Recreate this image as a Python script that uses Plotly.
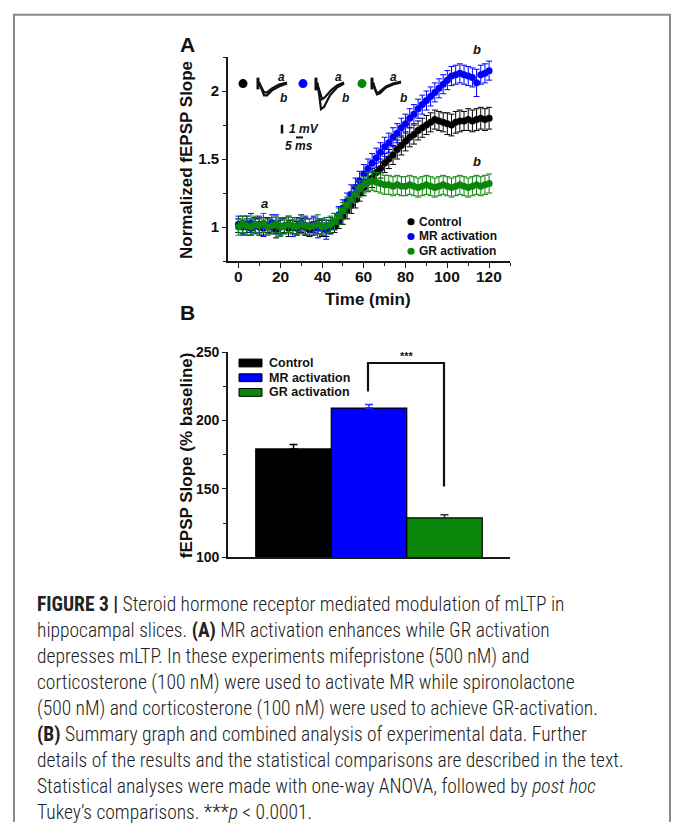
import plotly.graph_objects as go

W, H = 675, 827

# ---------------- Data ----------------
time_min = [0, 2, 4, 6, 8, 10, 12, 14, 16, 18, 20, 22, 24, 26, 28, 30, 32, 34, 36, 38, 40, 42, 44, 46,
            48, 50, 52, 54, 56, 58, 60, 62, 64, 66, 68, 70, 72, 74, 76, 78, 80, 82, 84, 86, 88, 90, 92, 94,
            96, 98, 100, 102, 104, 106, 108, 110, 112, 114, 116, 118, 120]

control_mean = [1.01, 1.00, 1.02, 0.99, 1.01, 1.00, 0.99, 1.01, 1.00, 0.98, 1.00, 1.01, 0.99, 1.00, 0.99, 1.01,
                1.00, 0.98, 0.99, 1.00, 0.99, 0.98, 1.00, 1.01,
                1.04, 1.08, 1.12, 1.16, 1.20, 1.25, 1.29, 1.33, 1.36, 1.40, 1.43, 1.47, 1.50, 1.53, 1.57, 1.60,
                1.63, 1.66, 1.68, 1.71, 1.73, 1.75, 1.77, 1.79,
                1.78, 1.77, 1.76, 1.75, 1.77, 1.78, 1.78, 1.79, 1.78, 1.79, 1.80, 1.79, 1.80]
control_sem = [0.05, 0.05, 0.06, 0.05, 0.05, 0.06, 0.05, 0.05, 0.05, 0.06, 0.05, 0.05, 0.06, 0.05, 0.05, 0.05,
               0.06, 0.05, 0.05, 0.05, 0.06, 0.05, 0.05, 0.05,
               0.05, 0.06, 0.06, 0.06, 0.06, 0.06, 0.06, 0.07, 0.07, 0.07, 0.07, 0.07, 0.07, 0.07, 0.07, 0.07,
               0.07, 0.07, 0.07, 0.07, 0.07, 0.07, 0.07, 0.07,
               0.07, 0.07, 0.08, 0.08, 0.08, 0.08, 0.07, 0.08, 0.08, 0.08, 0.08, 0.08, 0.08]

mr_mean = [1.02, 1.01, 1.00, 1.03, 1.01, 1.02, 1.00, 1.01, 1.03, 1.02, 1.00, 1.01, 1.02, 1.00, 1.01, 1.03,
           1.01, 1.00, 1.02, 0.99, 1.00, 0.98, 1.01, 1.04,
           1.09, 1.14, 1.19, 1.24, 1.29, 1.34, 1.39, 1.43, 1.47, 1.51, 1.55, 1.59, 1.62, 1.66, 1.69, 1.73,
           1.76, 1.80, 1.83, 1.87, 1.90, 1.93, 1.96, 1.99,
           2.02, 2.05, 2.08, 2.11, 2.12, 2.13, 2.12, 2.11, 2.10, 2.06, 2.12, 2.13, 2.15]
mr_sem = [0.06, 0.07, 0.06, 0.07, 0.06, 0.06, 0.07, 0.06, 0.06, 0.07, 0.06, 0.06, 0.06, 0.07, 0.06, 0.06,
          0.07, 0.06, 0.06, 0.07, 0.06, 0.07, 0.06, 0.06,
          0.06, 0.06, 0.06, 0.07, 0.07, 0.07, 0.07, 0.07, 0.07, 0.07, 0.07, 0.07, 0.07, 0.07, 0.07, 0.07,
          0.07, 0.07, 0.07, 0.07, 0.07, 0.07, 0.07, 0.07,
          0.07, 0.07, 0.07, 0.07, 0.07, 0.07, 0.07, 0.07, 0.07, 0.10, 0.07, 0.07, 0.07]

gr_mean = [1.00, 1.02, 1.01, 1.00, 1.02, 1.01, 1.03, 1.00, 1.01, 1.02, 1.00, 1.01, 1.02, 1.01, 1.00, 1.02,
           1.01, 1.00, 1.01, 1.02, 1.00, 1.01, 1.02, 1.04,
           1.08, 1.12, 1.16, 1.20, 1.24, 1.28, 1.31, 1.33, 1.34, 1.33, 1.32, 1.31, 1.31, 1.30, 1.31, 1.30,
           1.30, 1.31, 1.30, 1.29, 1.30, 1.31, 1.30, 1.29,
           1.30, 1.31, 1.30, 1.29, 1.30, 1.31, 1.30, 1.29, 1.30, 1.31, 1.30, 1.31, 1.32]
gr_sem = [0.06, 0.06, 0.07, 0.06, 0.06, 0.06, 0.07, 0.06, 0.06, 0.06, 0.07, 0.06, 0.06, 0.06, 0.06, 0.07,
          0.06, 0.06, 0.06, 0.07, 0.06, 0.06, 0.06, 0.06,
          0.06, 0.06, 0.06, 0.06, 0.06, 0.06, 0.06, 0.07, 0.07, 0.07, 0.07, 0.07, 0.07, 0.07, 0.07, 0.07,
          0.07, 0.07, 0.07, 0.07, 0.07, 0.07, 0.07, 0.07,
          0.07, 0.07, 0.07, 0.07, 0.07, 0.07, 0.07, 0.07, 0.07, 0.07, 0.07, 0.07, 0.07]

groups = ["Control", "MR activation", "GR activation"]
bar_pos = [1, 2, 3]
bar_mean = [179.2, 209.1, 128.7]
bar_sem = [3.3, 2.6, 2.4]

colors = ["#000000", "#0000FF", "#0A860A"]
err_colors = ["#000000", "#2B2BFF", "#333333"]

xticks_a = [0, 20, 40, 60, 80, 100, 120]
xticks_a_text = ["0", "20", "40", "60", "80", "100", "120"]
yticks_a = [1, 1.5, 2]
yticks_a_text = ["1", "1.5", "2"]
yticks_b = [100, 150, 200, 250]

# ---------------- helpers (pixel -> paper) ----------------
def PX(x):
    return x / W

def PY(y):
    return 1 - y / H

def path(points):
    return "M " + " L ".join(f"{PX(x):.5f},{PY(y):.5f}" for x, y in points)

ARIAL = "Liberation Sans, Arial, Helvetica, sans-serif"
CAP_FONT = "Roboto Condensed, Liberation Sans Narrow, DejaVu Sans Condensed, sans-serif"

fig = go.Figure()

# ---------------- Panel A ----------------
series = [(control_mean, control_sem), (mr_mean, mr_sem), (gr_mean, gr_sem)]
for (m, e), name, c in zip(series, groups, colors):
    fig.add_trace(go.Scatter(
        x=time_min, y=m, mode="markers", name=name,
        marker=dict(color=c, size=7, line=dict(width=0)),
        error_y=dict(type="data", array=e, color=c, thickness=1, width=3),
        xaxis="x", yaxis="y", showlegend=False))

# ---------------- Panel B ----------------
for i in range(3):
    fig.add_trace(go.Bar(
        x=[bar_pos[i]], y=[bar_mean[i]], width=1, name=groups[i],
        marker=dict(color=colors[i], line=dict(color="#000000", width=1.2)),
        error_y=dict(type="data", symmetric=False, array=[bar_sem[i]], arrayminus=[0],
                     color=err_colors[i], thickness=1.5, width=4),
        xaxis="x2", yaxis="y2", showlegend=False))

axis_common = dict(showgrid=False, zeroline=False, showline=True, linecolor="#1a1a1a",
                   linewidth=1.6, ticks="outside", tickcolor="#1a1a1a", tickwidth=1.4)

fig.update_layout(
    width=W, height=H, autosize=False,
    margin=dict(l=0, r=0, t=0, b=0),
    paper_bgcolor="white", plot_bgcolor="white",
    barmode="overlay",
    xaxis=dict(domain=[PX(228), PX(510)], range=[-5, 130], anchor="y",
               tickvals=xticks_a, ticklen=5, showticklabels=False,
               minor=dict(dtick=10, tick0=0, ticks="outside", ticklen=3, tickcolor="#1a1a1a"),
               **axis_common),
    yaxis=dict(domain=[PY(258), PY(50)], range=[0.75, 2.25], anchor="x",
               tickvals=yticks_a, ticktext=yticks_a_text, ticklen=4,
               tickfont=dict(family=ARIAL, size=15, color="#111", weight="bold"),
               minor=dict(dtick=0.25, tick0=0, ticks="outside", ticklen=3, tickcolor="#1a1a1a"),
               **axis_common),
    xaxis2=dict(domain=[PX(228), PX(510)], range=[0.1325, 3.8675], anchor="y2",
                showticklabels=False, showgrid=False, zeroline=False, showline=True,
                linecolor="#1a1a1a", linewidth=1.6, ticks=""),
    yaxis2=dict(domain=[PY(560), PY(351)], range=[100, 250], anchor="x2",
                tickvals=yticks_b, ticklen=4,
                tickfont=dict(family=ARIAL, size=14, color="#111", weight="bold"),
                minor=dict(dtick=25, tick0=0, ticks="outside", ticklen=3, tickcolor="#1a1a1a"),
                **axis_common),
)

shapes = []
ann = []

def text(x, y, s, size=12, color="#111", xanchor="center", yanchor="middle", angle=0,
         family=ARIAL, weight=None):
    f = dict(family=family, size=size, color=color)
    if weight is not None:
        f["weight"] = weight
    ann.append(dict(x=PX(x), y=PY(y), xref="paper", yref="paper", text=s, showarrow=False,
                    xanchor=xanchor, yanchor=yanchor, textangle=angle, font=f))

def line(pts, color="#111", width=2):
    shapes.append(dict(type="path", path=path(pts), xref="paper", yref="paper",
                       line=dict(color=color, width=width)))

def dot(x, y, r, color):
    shapes.append(dict(type="circle", xref="paper", yref="paper",
                       x0=PX(x - r), x1=PX(x + r), y0=PY(y + r), y1=PY(y - r),
                       fillcolor=color, line=dict(width=0)))

# x tick labels of panel A, placed on the x axis scale
for v, s in zip(xticks_a, xticks_a_text):
    ann.append(dict(x=v, xref="x", y=PY(274), yref="paper", text=f"<b>{s}</b>", showarrow=False,
                    xanchor="center", yanchor="middle",
                    font=dict(family=ARIAL, size=15.5, color="#111")))

# frame border
line([(14, 830), (14, 7), (670, 7), (670, 830)], color="#8a8a8a", width=2)

# panel letters and axis titles
text(187, 37, "<b>A</b>", size=21)
text(187, 310, "<b>B</b>", size=21)
text(186, 155, "<b>Normalized fEPSP Slope</b>", size=17, angle=-90)
text(368, 297, "<b>Time (min)</b>", size=17)
text(186, 456, "<b>fEPSP Slope (% baseline)</b>", size=17, angle=-90)

# panel A legend
for i, yy in enumerate([218, 233, 248]):
    dot(411, yy, 3.6, colors[i])
    text(417, yy, f"<b>{groups[i]}</b>", size=12, xanchor="left")

# a / b labels in panel A
text(264, 199, "<b><i>a</i></b>", size=13)
text(477, 42, "<b><i>b</i></b>", size=13)
text(477, 157, "<b><i>b</i></b>", size=13)

# inset example traces
dot(243, 77, 4.5, colors[0])
dot(303, 77, 4.5, colors[1])
dot(362, 77, 4.5, colors[2])
# black
line([(258, 71), (258, 83)], width=3)
line([(259, 76), (261, 80), (264, 86), (267, 86), (272, 82), (279, 78), (287, 76)], width=2.2)
line([(259, 76), (261, 81), (264, 89), (267, 89), (272, 84), (279, 80), (287, 77)], width=2.2)
# blue
line([(316, 71), (316, 84)], width=3)
line([(317, 76), (319, 83), (322, 93), (325, 91), (331, 84), (337, 79), (344, 76)], width=2.2)
line([(317, 76), (319, 87), (321, 103), (324, 101), (330, 89), (337, 81), (344, 77)], width=2.2)
# green
line([(372, 71), (372, 83)], width=3)
line([(373, 76), (375, 82), (377, 87), (380, 85), (386, 80), (393, 77), (401, 75)], width=2.2)
line([(373, 76), (375, 83), (377, 88), (380, 87), (386, 81), (393, 78), (401, 76)], width=2.2)
for xa, xb in [(281, 283), (338, 345), (393, 403)]:
    text(xa, 70, "<b><i>a</i></b>", size=12)
    text(xb, 92, "<b><i>b</i></b>", size=12)
# scale bars
line([(282, 119), (282, 128)], width=2.5)
text(287, 123, "<b><i>1 mV</i></b>", size=12, xanchor="left")
line([(296, 132), (303, 132)], width=2)
text(299, 141, "<b><i>5 ms</i></b>", size=12)

# panel B legend
for i, yy in enumerate([362, 377, 392]):
    shapes.append(dict(type="rect", xref="paper", yref="paper",
                       x0=PX(239), x1=PX(262), y0=PY(yy + 4), y1=PY(yy - 4),
                       fillcolor=colors[i], line=dict(color="#000", width=1)))
    text(267, yy, f"<b>{groups[i]}</b>", size=12.5, xanchor="left")

# significance bracket
line([(368, 391), (368, 362), (444, 362), (444, 488)], width=2.2)
text(407, 355, "<b>***</b>", size=11)

# caption
cap_lines = [
    "<b>FIGURE 3 |</b> Steroid hormone receptor mediated modulation of mLTP in",
    "hippocampal slices. <b>(A)</b> MR activation enhances while GR activation",
    "depresses mLTP. In these experiments mifepristone (500 nM) and",
    "corticosterone (100 nM) were used to activate MR while spironolactone",
    "(500 nM) and corticosterone (100 nM) were used to achieve GR-activation.",
    "<b>(B)</b> Summary graph and combined analysis of experimental data. Further",
    "details of the results and the statistical comparisons are described in the text.",
    "Statistical analyses were made with one-way ANOVA, followed by <i>post hoc</i>",
    "Tukey\u2019s comparisons. ***<i>p</i> &lt; 0.0001.",
]
cap_y = [608, 635, 661, 688, 714, 741, 767, 794, 820]
for s, yy in zip(cap_lines, cap_y):
    text(35, yy, s, size=19.5, color="#222", xanchor="left", family=CAP_FONT, weight=300)

fig.update_layout(shapes=shapes, annotations=ann)
fig.write_html("out.html", config={"displayModeBar": False},
               post_script="document.body.style.margin='0px';document.body.style.overflow='hidden';")
